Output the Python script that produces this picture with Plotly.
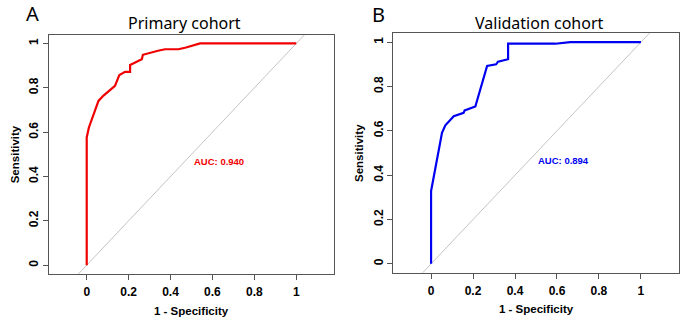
import plotly.graph_objects as go

# ---- data ----
fpr_primary = [0, 0, 0.01, 0.025, 0.04, 0.056, 0.08, 0.11, 0.135, 0.15, 0.156, 0.183,
               0.207, 0.207, 0.24, 0.263, 0.268, 0.30, 0.318, 0.34, 0.374, 0.438, 0.474,
               0.50, 0.541, 1.0]
tpr_primary = [0, 0.576, 0.62, 0.66, 0.70, 0.741, 0.765, 0.79, 0.809, 0.845, 0.858, 0.872,
               0.872, 0.903, 0.918, 0.929, 0.949, 0.958, 0.964, 0.967, 0.974, 0.974, 0.982,
               0.99, 1.0, 1.0]
fpr_valid = [0, 0, 0.052, 0.068, 0.108, 0.155, 0.16, 0.211, 0.267, 0.31, 0.319, 0.367,
             0.367, 0.592, 0.663, 1.0]
tpr_valid = [0, 0.328, 0.591, 0.625, 0.666, 0.681, 0.692, 0.71, 0.893, 0.9, 0.912, 0.923,
             0.993, 0.993, 1.0, 1.0]
tick_vals = [0, 0.2, 0.4, 0.6, 0.8, 1]
tick_text = ["0", "0.2", "0.4", "0.6", "0.8", "1"]
auc_primary = "AUC: 0.940"
auc_valid = "AUC: 0.894"
diag = [-0.3, 1.3]

W, H = 693, 323

def X(px):
    return px / W

def Y(py):
    return 1 - py / H

fig = go.Figure()

# identity lines
fig.add_trace(go.Scatter(x=diag, y=diag, mode="lines", line=dict(color="#C4C4C4", width=1),
                         xaxis="x", yaxis="y", showlegend=False, hoverinfo="skip"))
fig.add_trace(go.Scatter(x=diag, y=diag, mode="lines", line=dict(color="#C4C4C4", width=1),
                         xaxis="x2", yaxis="y2", showlegend=False, hoverinfo="skip"))
# ROC curves
fig.add_trace(go.Scatter(x=fpr_primary, y=tpr_primary, mode="lines",
                         line=dict(color="#F00000", width=2.2), xaxis="x", yaxis="y",
                         showlegend=False))
fig.add_trace(go.Scatter(x=fpr_valid, y=tpr_valid, mode="lines",
                         line=dict(color="#0000F0", width=2.2), xaxis="x2", yaxis="y2",
                         showlegend=False))

tickfont = dict(family="Liberation Sans, Arial", size=12, color="black", weight="bold")
axcommon = dict(showline=True, mirror=True, linecolor="#555555", linewidth=1,
                ticks="outside", ticklen=5, tickcolor="#555555", tickwidth=1,
                showgrid=False, zeroline=False, tickvals=tick_vals, ticktext=tick_text,
                tickfont=tickfont, fixedrange=True, automargin=False)

fig.update_layout(
    width=W, height=H, margin=dict(l=0, r=0, t=0, b=0),
    paper_bgcolor="white", plot_bgcolor="white",
    xaxis=dict(domain=[X(49), X(334)], range=[-0.18, 1.18], anchor="y",
               ticklabelstandoff=2, **axcommon),
    yaxis=dict(domain=[Y(274), Y(34.6)], range=[-0.04, 1.04], anchor="x",
               tickangle=-90, **axcommon),
    xaxis2=dict(domain=[X(393.3), X(678.7)], range=[-0.18, 1.18], anchor="y2",
                ticklabelstandoff=2, **axcommon),
    yaxis2=dict(domain=[Y(272.7), Y(33.3)], range=[-0.04, 1.04], anchor="x2",
                tickangle=-90, **axcommon),
)

labfont = dict(family="Liberation Sans, Arial", size=11.5, color="black", weight="bold")
titlefont = dict(family="Noto Sans", size=16, color="black")
letterfont = dict(family="Noto Sans", size=20, color="black")

ann = []
def pa(text, px, py, font, angle=0):
    ann.append(dict(text=text, x=X(px), y=Y(py), xref="paper", yref="paper",
                    showarrow=False, font=font, textangle=angle,
                    xanchor="center", yanchor="middle"))

pa("A", 32.5, 13.7, letterfont)
pa("B", 378, 14.5, letterfont)
pa("Primary cohort", 184.3, 23.5, titlefont)
pa("Validation cohort", 539.3, 23, titlefont)
pa("Sensitivity", 15, 154.3, labfont, -90)
pa("Sensitivity", 359, 153, labfont, -90)
pa("1 - Specificity", 191.5, 310.7, labfont)
pa("1 - Specificity", 536, 309.3, labfont)

aucfont_p = dict(family="Liberation Sans, Arial", size=9.5, color="#F00000", weight="bold")
aucfont_v = dict(family="Liberation Sans, Arial", size=9.5, color="#0000F0", weight="bold")
ann.append(dict(text=auc_primary, x=0.5, y=0.5, xref="x", yref="y", showarrow=False,
                xanchor="left", yanchor="top", font=aucfont_p))
ann.append(dict(text=auc_valid, x=0.5, y=0.5, xref="x2", yref="y2", showarrow=False,
                xanchor="left", yanchor="top", font=aucfont_v))
fig.update_layout(annotations=ann)

fig.write_html("out.html", config={"displayModeBar": False},
               post_script="document.body.style.margin='0';document.body.style.padding='0';")
